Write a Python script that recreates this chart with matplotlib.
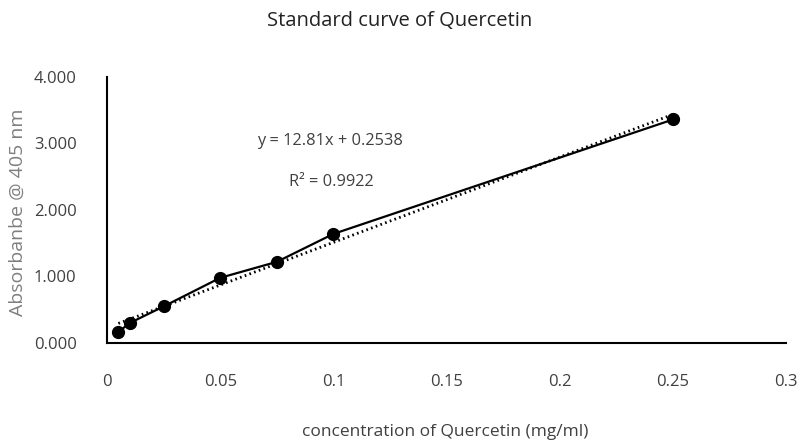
import matplotlib.pyplot as plt
import numpy as np

# Standard curve data
concentration = [0.005, 0.01, 0.025, 0.05, 0.075, 0.1, 0.25]
absorbance = [0.165, 0.30, 0.55, 0.98, 1.22, 1.64, 3.36]

x_ticks = [0, 0.05, 0.1, 0.15, 0.2, 0.25, 0.3]
x_tick_labels = ["0", "0.05", "0.1", "0.15", "0.2", "0.25", "0.3"]
y_ticks = [0, 1, 2, 3, 4]
y_tick_labels = ["0.000", "1.000", "2.000", "3.000", "4.000"]

equation_text = "y = 12.81x + 0.2538"
r2_text = "R² = 0.9922"

plt.rcParams['font.family'] = ['Open Sans', 'DejaVu Sans']
text_color = '#404040'

fig = plt.figure(figsize=(7.99, 4.42), dpi=100)
ax = fig.add_axes([0.134, 0.224, 0.850, 0.602])

# Data series with markers
ax.plot(concentration, absorbance, color='black', linewidth=1.6,
        marker='o', markersize=8.5, zorder=3)

# Linear trendline (dotted)
slope, intercept = np.polyfit(concentration, absorbance, 1)
fit_x = np.array([min(concentration), max(concentration)])
ax.plot(fit_x, slope * fit_x + intercept, color='black', linewidth=2,
        linestyle=(0, (0.6, 1.2)), zorder=2)

ax.set_xlim(0, 0.3)
ax.set_ylim(0, 4)
ax.set_xticks(x_ticks)
ax.set_xticklabels(x_tick_labels)
ax.set_yticks(y_ticks)
ax.set_yticklabels(y_tick_labels)
ax.tick_params(length=0, labelsize=12, labelcolor=text_color)
ax.tick_params(axis='x', pad=22)
ax.tick_params(axis='y', pad=22)

for side in ['top', 'right']:
    ax.spines[side].set_visible(False)
for side in ['left', 'bottom']:
    ax.spines[side].set_color('black')
    ax.spines[side].set_linewidth(1.5)

fig.text(0.5, 1 - 21 / 442, "Standard curve of Quercetin", ha='center', va='center',
         fontsize=14.5, color='#222222')
fig.text(445 / 799, 1 - 432 / 442, "concentration of Quercetin (mg/ml)", ha='center',
         va='center', fontsize=12.5, color=text_color)
fig.text(18 / 799, 1 - 212 / 442, "Absorbanbe @ 405 nm", ha='center', va='center',
         rotation=90, fontsize=14, color='#7f7f7f')

fig.text(330 / 799, 1 - 141 / 442, equation_text, ha='center', va='center',
         fontsize=11.8, color=text_color)
fig.text(331 / 799, 1 - 182 / 442, r2_text, ha='center', va='center',
         fontsize=11.8, color=text_color)

plt.savefig('out.png', dpi=100)
